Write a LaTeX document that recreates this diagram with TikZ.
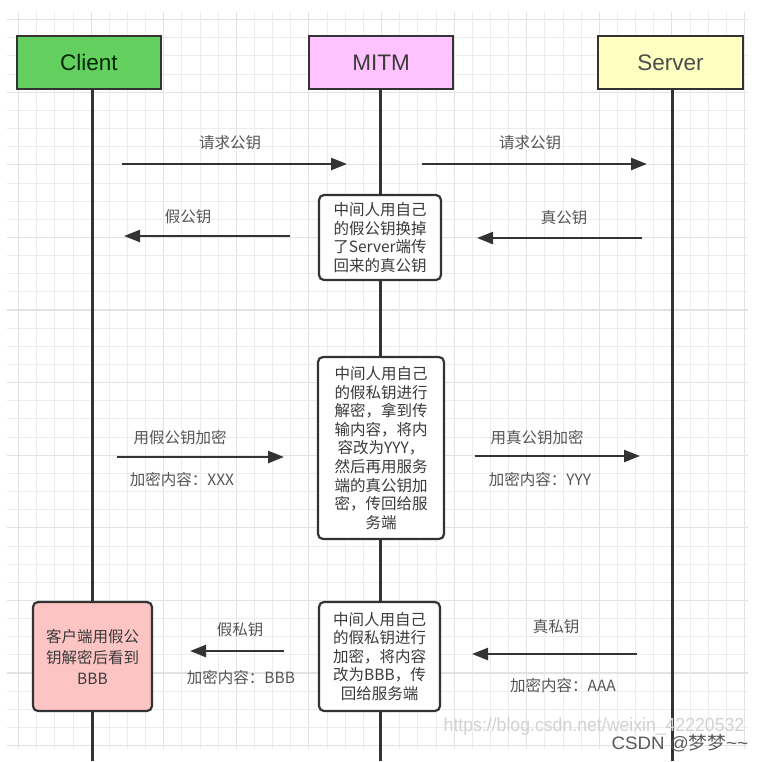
\documentclass[tikz,border=0pt]{standalone}
\usepackage{fontspec}
\setmainfont{Liberation Sans}
\newfontfamily\cjk{Noto Sans CJK SC}
\usetikzlibrary{arrows.meta}
\definecolor{linec}{HTML}{333333}
\definecolor{gridminor}{HTML}{ECECEC}
\definecolor{gridmajor}{HTML}{E2E2E2}
\definecolor{clientfill}{HTML}{62CF5E}
\definecolor{mitmfill}{HTML}{FEC3FE}
\definecolor{serverfill}{HTML}{FFFFC2}
\definecolor{pinkfill}{HTML}{FDC4C4}
\definecolor{txt}{HTML}{3A3A3A}
\definecolor{lblc}{HTML}{555555}
\definecolor{wm}{HTML}{D2D2D2}
\begin{document}
\begin{tikzpicture}[x=1pt,y=-1pt,
  head/.style={draw=linec, line width=2.2pt, minimum height=53pt, inner sep=0pt,
    font=\fontsize{22.5}{25}\selectfont},
  note/.style={draw=linec, line width=2.2pt, rounded corners=5pt, fill=white, align=center,
    font=\cjk\fontsize{15.5}{18.6}\selectfont, text=txt, inner sep=0pt},
  msg/.style={draw=linec, line width=2.4pt, -{Triangle[length=16pt,width=12pt]}},
  lbl/.style={font=\cjk\fontsize{15.5}{18}\selectfont, text=lblc, inner sep=0pt},
  life/.style={draw=linec, line width=3pt}]
\useasboundingbox[fill=white] (0,0) rectangle (763,761);
% grid
\foreach \i in {0,...,40}{
  \pgfmathsetmacro\xx{18.5+18.15*\i}
  \pgfmathsetmacro\yy{19.6+18.15*\i}
  \pgfmathtruncatemacro\mj{mod(\i,4)}
  \ifnum\mj=0
    \draw[gridmajor, line width=1.1pt] (\xx,12) -- (\xx,749);
    \draw[gridmajor, line width=1.1pt] (7,\yy) -- (748,\yy);
  \else
    \draw[gridminor, line width=0.9pt] (\xx,12) -- (\xx,749);
    \draw[gridminor, line width=0.9pt] (7,\yy) -- (748,\yy);
  \fi
}
% headers
\node[head, fill=clientfill, minimum width=144pt, text=black!75!green!60!black] (client) at (89,62.5) {Client};
\node[head, fill=mitmfill, minimum width=144pt, text=txt] (mitm) at (381,62.5) {MITM};
\node[head, fill=serverfill, minimum width=145pt, text=black!70] (server) at (670.5,62.5) {Server};
% lifelines
\coordinate (clientB) at (92,761);
\coordinate (mitmB) at (380,761);
\coordinate (serverB) at (672,761);
\draw[life] (client.south -| clientB) -- (clientB);
\draw[life] (mitm.south -| mitmB) -- (mitmB);
\draw[life] (server.south -| serverB) -- (serverB);
% MITM notes
\node[note, minimum width=122pt, minimum height=85pt] (n1) at (380,237.5)
  {中间人用自己\\的假公钥换掉\\了Server端传\\回来的真公钥};
\node[note, minimum width=126pt, minimum height=182pt] (n2) at (381,448)
  {中间人用自己\\的假私钥进行\\解密，拿到传\\输内容，将内\\容改为YYY，\\然后再用服务\\端的真公钥加\\密，传回给服\\务端};
\node[note, minimum width=121pt, minimum height=109pt] (n3) at (379.5,656.5)
  {中间人用自己\\的假私钥进行\\加密，将内容\\改为BBB，传\\回给服务端};
\node[note, fill=pinkfill, minimum width=119pt, minimum height=109pt, font=\cjk\fontsize{15.5}{21}\selectfont] (n4) at (92.5,656.5)
  {客户端用假公\\钥解密后看到\\BBB};
% message coordinates
\coordinate (m1s) at (122,164); \coordinate (m1e) at (347,164);
\coordinate (m2s) at (422,164); \coordinate (m2e) at (647,164);
\coordinate (m3s) at (290,236); \coordinate (m3e) at (124,236);
\coordinate (m4s) at (642,238); \coordinate (m4e) at (477,238);
\coordinate (m5s) at (117,457); \coordinate (m5e) at (284,457);
\coordinate (m6s) at (475,456); \coordinate (m6e) at (640,456);
\coordinate (m7s) at (284,651); \coordinate (m7e) at (190,651);
\coordinate (m8s) at (637,654); \coordinate (m8e) at (472,654);
\draw[msg] (m1s) -- (m1e);
\draw[msg] (m2s) -- (m2e);
\draw[msg] (m3s) -- (m3e);
\draw[msg] (m4s) -- (m4e);
\draw[msg] (m5s) -- (m5e);
\draw[msg] (m6s) -- (m6e);
\draw[msg] (m7s) -- (m7e);
\draw[msg] (m8s) -- (m8e);
% labels
\node[lbl] (l1) at (230,143) {请求公钥};
\node[lbl] (l2) at (530,143) {请求公钥};
\node[lbl] (l3) at (188,217) {假公钥};
\node[lbl] (l4) at (564,218) {真公钥};
\node[lbl] (l5) at (180,438) {用假公钥加密};
\node[lbl] (l5b) at (182,480) {加密内容：XXX};
\node[lbl] (l6) at (537,438) {用真公钥加密};
\node[lbl] (l6b) at (540,480) {加密内容：YYY};
\node[lbl] (l7) at (240,630) {假私钥};
\node[lbl] (l7b) at (241,678) {加密内容：BBB};
\node[lbl] (l8) at (556,627) {真私钥};
\node[lbl] (l8b) at (563,686) {加密内容：AAA};
% watermark
\node[inner sep=0pt, text=wm, font=\fontsize{19}{20}\selectfont] (wm1) at (594,727)
  {\scalebox{0.93}[1]{https://blog.csdn.net/weixin\_42220532}};
\node[inner sep=0pt, text=black!65, font=\fontsize{18}{20}\selectfont] (wm2) at (680,743)
  {\scalebox{1.04}[1]{CSDN @{\cjk 梦梦}\textasciitilde\textasciitilde}};
\end{tikzpicture}
\end{document}
